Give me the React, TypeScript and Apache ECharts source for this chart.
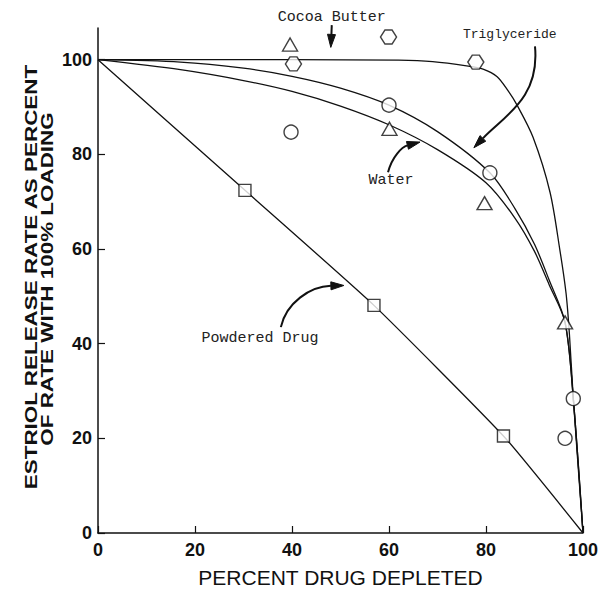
import React, { useEffect, useRef } from 'react';
import * as echarts from 'echarts';

// ---- data (percent drug depleted, release rate %) ----
const xTicks = [0, 20, 40, 60, 80, 100];
const yTicks = [0, 20, 40, 60, 80, 100];

const powderedCurve = [[0, 100], [30.3, 72.4], [56.9, 48.1], [83.6, 20.5], [100, 0]];
const cocoaCurve = [[0, 100], [40, 100], [62, 99.9], [69, 99.6], [76, 98.7], [79.4, 98], [82.3, 96.4], [84.5, 93.5], [86.4, 90.4], [89.7, 83.6], [93.2, 72], [95.2, 60], [96.5, 50.7], [97.2, 42], [98, 28.4], [100, 0]];
const trigCurve = [[0, 100], [17, 99.5], [30, 98.2], [40, 96.5], [50, 94], [60, 90.4], [70, 84.8], [80.8, 76.1], [86, 68.5], [90, 61], [93, 53.5], [96.3, 44.5], [98, 28.4], [100, 0]];
const waterCurve = [[0, 100], [17, 97.9], [30, 95.6], [40, 93.3], [50, 90.2], [60.1, 86.2], [70, 81], [80, 74], [86, 66.5], [90, 59.5], [93, 52.5], [96.3, 44.5], [98, 28.4], [100, 0]];

const squarePoints = [[30.3, 72.4], [56.9, 48.1], [83.6, 20.5]];
const trianglePoints = [[39.6, 103.2], [60.1, 85.4], [79.7, 69.7], [96.3, 44.5]];
const hexagonPoints = [[40.3, 99.1], [59.9, 104.8], [77.9, 99.5]];
const circlePoints = [[39.8, 84.7], [60, 90.4], [80.8, 76.1], [98, 28.4], [96.3, 20]];

// annotation labels (data coordinates)
const labelTexts = ['Cocoa Butter', 'Triglyceride', 'Water', 'Powdered Drug'];
const labelPositions = [[48.2, 108.9], [84.9, 105.3], [60.4, 74.4], [33.4, 41.0]];
const labelSizes = [15, 13, 15, 15];
// arrows: [start, cp1, cp2, tip]
const arrowPaths = [
  [[48.2, 107.3], [48.15, 106], [48.1, 104.5], [48.0, 102.6]],
  [[90.1, 102.8], [91.1, 91.9], [83.9, 88.2], [77.5, 81.4]],
  [[59.8, 76.2], [60.6, 79.5], [62.7, 81.6], [66.4, 82.6]],
  [[37.7, 43.5], [38.8, 48.6], [43.7, 52.1], [50.7, 52.3]],
];

const HEX = 'path://M28,0L72,0L100,50L72,100L28,100L0,50Z';

export default function App() {
  const ref = useRef<HTMLDivElement>(null);
  useEffect(() => {
    const chart = echarts.init(ref.current!, null, { renderer: 'svg' });
    const lineStyle = { color: '#111', width: 1.3 };
    const curve = (name: string, data: number[][], smooth: number) => ({
      type: 'line', name, data, smooth, showSymbol: false,
      lineStyle, z: 2, silent: true,
    });
    const marker = (data: number[][], symbol: string, size: any) => ({
      type: 'scatter', data, symbol, symbolSize: size, z: 5,
      itemStyle: { color: '#fff', borderColor: '#111', borderWidth: 1.4 },
    });
    const axisFont = { fontFamily: 'Liberation Sans', fontWeight: 'bold', fontSize: 18, color: '#111' };
    chart.setOption({
      animation: false,
      backgroundColor: '#fff',
      grid: { left: 98, right: 26, top: 28, bottom: 47 },
      xAxis: {
        type: 'value', min: 0, max: 100, interval: 20,
        name: 'PERCENT DRUG DEPLETED', nameLocation: 'middle', nameGap: 34,
        nameTextStyle: { fontFamily: 'Liberation Sans', fontSize: 21, color: '#111' },
        axisLine: { lineStyle: { color: '#111', width: 1.5 } },
        axisTick: { inside: true, length: 7, lineStyle: { color: '#111', width: 1.2 } },
        axisLabel: { ...axisFont, margin: 8 },
        splitLine: { show: false },
      },
      yAxis: {
        type: 'value', min: 0, max: 106.7, interval: 20,
        axisLine: { show: true, lineStyle: { color: '#111', width: 1.5 } },
        axisTick: { show: true, inside: true, length: 7, customValues: yTicks, lineStyle: { color: '#111', width: 1.2 } },
        axisLabel: { ...axisFont, margin: 6, customValues: yTicks },
        splitLine: { show: false },
      },
      series: [
        curve('Powdered Drug', powderedCurve, 0.15),
        curve('Cocoa Butter', cocoaCurve, 0.3),
        curve('Triglyceride', trigCurve, 0.3),
        curve('Water', waterCurve, 0.3),
        marker(squarePoints, 'rect', 12),
        marker(trianglePoints, 'triangle', [15, 13]),
        marker(hexagonPoints, HEX, [16, 14]),
        marker(circlePoints, 'circle', 14),
      ],
    });

    const px = (p: number[]) => chart.convertToPixel({ gridIndex: 0 }, p) as number[];
    const elements: any[] = [];
    labelTexts.forEach((t, i) => {
      const [x, y] = px(labelPositions[i]);
      elements.push({
        type: 'text', x, y, z: 10,
        style: { text: t, textAlign: 'center', textVerticalAlign: 'middle',
          font: `${labelSizes[i]}px "Liberation Mono"`, fill: '#222' },
      });
    });
    arrowPaths.forEach((a) => {
      const [p0, c1, c2, tip] = a.map(px);
      const dx = tip[0] - c2[0];
      const dy = tip[1] - c2[1];
      const len = Math.hypot(dx, dy) || 1;
      const ux = dx / len, uy = dy / len;
      const hl = 13, hw = 4;
      const base = [tip[0] - ux * hl, tip[1] - uy * hl];
      elements.push({
        type: 'bezierCurve', z: 10,
        shape: { x1: p0[0], y1: p0[1], cpx1: c1[0], cpy1: c1[1], cpx2: c2[0], cpy2: c2[1], x2: base[0], y2: base[1] },
        style: { stroke: '#111', lineWidth: 2, fill: null },
      });
      elements.push({
        type: 'polygon', z: 10,
        shape: { points: [tip, [base[0] - uy * hw, base[1] + ux * hw], [base[0] + uy * hw, base[1] - ux * hw]] },
        style: { fill: '#111', stroke: '#111', lineWidth: 1 },
      });
    });
    const yTitleFont = 'bold 17px "Liberation Sans"';
    elements.push({
      type: 'text', x: 31, y: 277, rotation: Math.PI / 2, scaleX: 1.32, z: 10,
      style: { text: 'ESTRIOL RELEASE RATE AS PERCENT', textAlign: 'center', textVerticalAlign: 'middle', font: yTitleFont, fill: '#111' },
    });
    elements.push({
      type: 'text', x: 47, y: 279, rotation: Math.PI / 2, scaleX: 1.32, z: 10,
      style: { text: 'OF RATE WITH 100% LOADING', textAlign: 'center', textVerticalAlign: 'middle', font: yTitleFont, fill: '#111' },
    });
    chart.setOption({ graphic: elements });
    return () => chart.dispose();
  }, []);
  return <div ref={ref} style={{ position: 'fixed', left: 0, top: 0, width: 609, height: 593 }} />;
}
